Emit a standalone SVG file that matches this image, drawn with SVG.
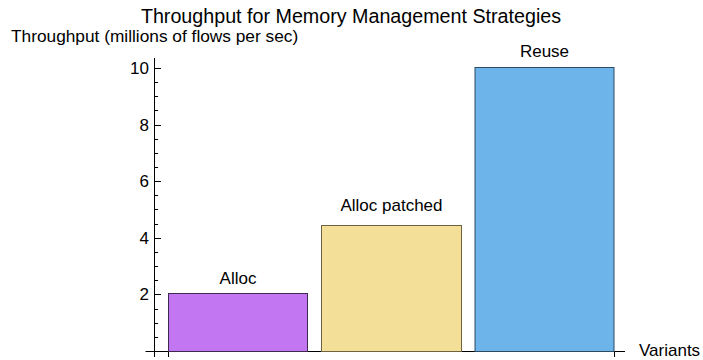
<svg xmlns="http://www.w3.org/2000/svg" width="703" height="360" viewBox="0 0 703 360">
<style>
text{font-family:"Liberation Sans",Arial,sans-serif;fill:#000}
.title{font-size:19.7px;text-anchor:middle}
.lbl{font-size:17px;text-anchor:middle}
.tick{font-size:17px;text-anchor:end}
.ax{stroke:#000;stroke-width:1;fill:none}
.mt{stroke:#000;stroke-width:1}
</style>
<rect width="703" height="360" fill="#fff"/>
<text class="title" x="351" y="23">Throughput for Memory Management Strategies</text>
<text x="11" y="42" style="font-size:17.3px">Throughput (millions of flows per sec)</text>
<g id="axes">
<path class="ax" d="M145.5 351.5H625M154.5 58V357M168.5 351V357M614.5 351V357"/>
<path class="mt" d="M154.5 68.5H161M154.5 125.5H161M154.5 181.5H161M154.5 238.5H161M154.5 294.5H161M154.5 82.5H158M154.5 96.5H158M154.5 110.5H158M154.5 139.5H158M154.5 153.5H158M154.5 167.5H158M154.5 195.5H158M154.5 209.5H158M154.5 224.5H158M154.5 252.5H158M154.5 266.5H158M154.5 280.5H158M154.5 309.5H158M154.5 323.5H158M154.5 337.5H158"/>
<text class="tick" x="149" y="74">10</text>
<text class="tick" x="149" y="131">8</text>
<text class="tick" x="149" y="187">6</text>
<text class="tick" x="149" y="244">4</text>
<text class="tick" x="149" y="300">2</text>
<text x="639" y="356" style="font-size:17px">Variants</text>
</g>
<g id="bar-alloc">
<rect x="168.5" y="293.5" width="139" height="58" fill="#C276F1" stroke="#3f2a4f"/>
<text class="lbl" x="238" y="284">Alloc</text>
</g>
<g id="bar-alloc-patched">
<rect x="321.5" y="225.5" width="140" height="126" fill="#F3DF97" stroke="#6e6340"/>
<text class="lbl" x="391.5" y="211">Alloc patched</text>
</g>
<g id="bar-reuse">
<rect x="475" y="67.5" width="139" height="284" fill="#6CB4EA" stroke="#2d4a63"/>
<text class="lbl" x="544.5" y="57">Reuse</text>
</g>
</svg>
